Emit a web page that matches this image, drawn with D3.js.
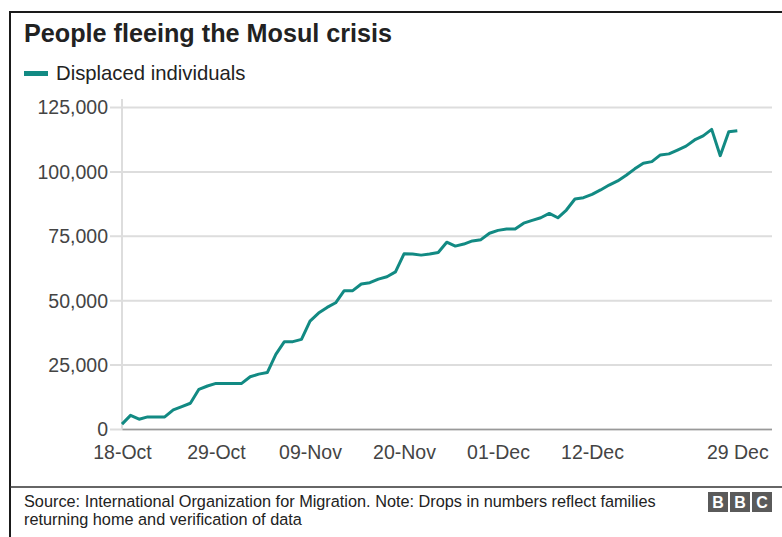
<!DOCTYPE html>
<html>
<head>
<meta charset="utf-8">
<script src="https://cdn.jsdelivr.net/npm/d3@7"></script>
<style>
  body { margin: 0; background: #fff; }
  svg { display: block; font-family: "Liberation Sans", Arial, Helvetica, sans-serif; }
</style>
</head>
<body>
<div class="chart"></div>
<script>
// daily figures, 18 Oct - 29 Dec 2016
var dates = [
  "2016-10-18","2016-10-19","2016-10-20","2016-10-21","2016-10-22","2016-10-23","2016-10-24",
  "2016-10-25","2016-10-26","2016-10-27","2016-10-28","2016-10-29","2016-10-30","2016-10-31",
  "2016-11-01","2016-11-02","2016-11-03","2016-11-04","2016-11-05","2016-11-06","2016-11-07",
  "2016-11-08","2016-11-09","2016-11-10","2016-11-11","2016-11-12","2016-11-13","2016-11-14",
  "2016-11-15","2016-11-16","2016-11-17","2016-11-18","2016-11-19","2016-11-20","2016-11-21",
  "2016-11-22","2016-11-23","2016-11-24","2016-11-25","2016-11-26","2016-11-27","2016-11-28",
  "2016-11-29","2016-11-30","2016-12-01","2016-12-02","2016-12-03","2016-12-04","2016-12-05",
  "2016-12-06","2016-12-07","2016-12-08","2016-12-09","2016-12-10","2016-12-11","2016-12-12",
  "2016-12-13","2016-12-14","2016-12-15","2016-12-16","2016-12-17","2016-12-18","2016-12-19",
  "2016-12-20","2016-12-21","2016-12-22","2016-12-23","2016-12-24","2016-12-25","2016-12-26",
  "2016-12-27","2016-12-28","2016-12-29"
];
var displaced = [
  1900, 5300, 3800, 4700, 4700, 4700, 7400,
  8700, 10000, 15400, 16700, 17700, 17700, 17700,
  17700, 20300, 21300, 21900, 29000, 33900, 33900,
  34800, 41900, 45000, 47200, 49000, 53700, 53700,
  56300, 56800, 58200, 59100, 61000, 68000, 67900,
  67500, 67900, 68500, 72500, 71000, 71800, 73000,
  73500, 76000, 77100, 77600, 77600, 79900, 81000,
  82000, 83700, 82000, 85000, 89300, 89800, 91100,
  92800, 94700, 96300, 98500, 101000, 103200, 103800,
  106400, 106800, 108300, 109800, 112200, 113800, 116300,
  106100, 115400, 115800
];
var xTickDates = ["2016-10-18","2016-10-29","2016-11-09","2016-11-20","2016-12-01","2016-12-12","2016-12-29"];
var xTickLabels = ["18-Oct","29-Oct","09-Nov","20-Nov","01-Dec","12-Dec","29 Dec"];
var yTicks = [0, 25000, 50000, 75000, 100000, 125000];

var width = 782;
var height = 537;
var parse = d3.timeParse("%Y-%m-%d");

var data = dates.map(function(d, i) {
  return { date: parse(d), value: displaced[i] };
});

var svg = d3.select(".chart")
  .append("svg")
  .attr("width", width)
  .attr("height", height);

svg.append("rect")
  .attr("width", width)
  .attr("height", height)
  .attr("fill", "#fff");

// outer frame
svg.append("rect")
  .attr("x", 10)
  .attr("y", 12)
  .attr("width", 820)
  .attr("height", 600)
  .attr("fill", "none")
  .attr("stroke", "#1a1a1a")
  .attr("stroke-width", 2);

svg.append("text")
  .attr("x", 24)
  .attr("y", 42)
  .attr("font-size", "25.2px")
  .attr("font-weight", "bold")
  .attr("fill", "#222")
  .text("People fleeing the Mosul crisis");

// legend
svg.append("rect")
  .attr("x", 24)
  .attr("y", 71)
  .attr("width", 24)
  .attr("height", 5)
  .attr("fill", "#128a83");

svg.append("text")
  .attr("x", 56)
  .attr("y", 80)
  .attr("font-size", "20.3px")
  .attr("fill", "#222")
  .text("Displaced individuals");

var x = d3.scaleTime()
  .domain([parse("2016-10-18"), parse("2017-01-02")])
  .range([122, 771.5]);

var y = d3.scaleLinear()
  .domain([0, 125000])
  .range([429, 107]);

// y axis with gridlines
var yAxis = svg.append("g")
  .attr("transform", "translate(110,0)")
  .call(d3.axisRight(y)
    .tickValues(yTicks)
    .tickSize(662)
    .tickFormat(d3.format(",")));

yAxis.select(".domain").remove();
yAxis.selectAll(".tick line")
  .attr("stroke", "#dddddd")
  .attr("stroke-width", 2);
yAxis.selectAll(".tick text")
  .attr("x", -2)
  .attr("dy", "0.35em")
  .attr("text-anchor", "end")
  .attr("font-size", "19.5px")
  .attr("fill", "#444");

// vertical axis line
svg.append("line")
  .attr("x1", 122)
  .attr("x2", 122)
  .attr("y1", 99)
  .attr("y2", 429)
  .attr("stroke", "#dddddd")
  .attr("stroke-width", 2);

// x axis
var xAxis = svg.append("g")
  .attr("transform", "translate(0,429)")
  .call(d3.axisBottom(x)
    .tickValues(xTickDates.map(parse))
    .tickSize(0)
    .tickPadding(16)
    .tickFormat(function(d, i) { return xTickLabels[i]; }));

xAxis.select(".domain")
  .attr("stroke", "#999")
  .attr("stroke-width", 1.5);
xAxis.selectAll(".tick text")
  .attr("font-size", "19.5px")
  .attr("fill", "#444");

var line = d3.line()
  .x(function(d) { return x(d.date); })
  .y(function(d) { return y(d.value); });

svg.append("path")
  .datum(data)
  .attr("fill", "none")
  .attr("stroke", "#128a83")
  .attr("stroke-width", 3)
  .attr("stroke-linejoin", "round")
  .attr("d", line);

// footer
svg.append("line")
  .attr("x1", 10)
  .attr("x2", width)
  .attr("y1", 487)
  .attr("y2", 487)
  .attr("stroke", "#333")
  .attr("stroke-width", 1.5);

var source = svg.append("text")
  .attr("x", 24)
  .attr("y", 507)
  .attr("font-size", "16.3px")
  .attr("fill", "#222");
source.append("tspan")
  .attr("x", 24)
  .text("Source: International Organization for Migration. Note: Drops in numbers reflect families");
source.append("tspan")
  .attr("x", 24)
  .attr("dy", 18)
  .text("returning home and verification of data");

var logo = svg.append("g")
  .selectAll("g")
  .data(["B", "B", "C"])
  .enter()
  .append("g")
  .attr("transform", function(d, i) { return "translate(" + (708 + i * 22) + ",492)"; });

logo.append("rect")
  .attr("width", 20)
  .attr("height", 20)
  .attr("fill", "#5a5a5a");

logo.append("text")
  .attr("x", 10)
  .attr("y", 16)
  .attr("text-anchor", "middle")
  .attr("font-size", "16px")
  .attr("font-weight", "bold")
  .attr("fill", "#fff")
  .text(function(d) { return d; });
</script>
</body>
</html>
